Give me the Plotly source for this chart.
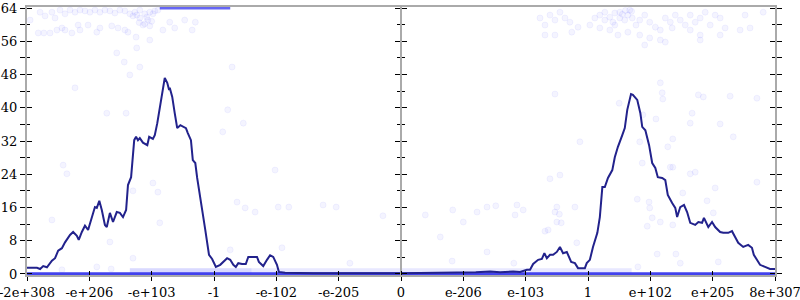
import plotly.graph_objects as go

# ---------------- data ----------------
tick_labels = ["-2e+308", "-e+206", "-e+103", "-1", "-e-102", "-e-205", "0",
               "e-206", "e-103", "1", "e+102", "e+205", "8e+307"]
tick_pos = list(range(len(tick_labels)))
y_major = [0, 8, 16, 24, 32, 40, 48, 56, 64]
y_minor = [4, 12, 20, 28, 36, 44, 52, 60]

# density curve (x in bit-order index units, y value)
curve = [(0.00, 1.5), (0.16, 1.5), (0.21, 1.2), (0.26, 1.9), (0.32, 1.6), (0.40, 3.2), (0.45, 3.8),
         (0.50, 5.6), (0.56, 6.2), (0.61, 7.6), (0.69, 9.4), (0.74, 10.1), (0.80, 9.2), (0.83, 8.2),
         (0.88, 10.1), (0.93, 11.6), (0.98, 10.6), (1.04, 13.7), (1.09, 16.1), (1.12, 15.9), (1.16, 17.6),
         (1.20, 15.4), (1.25, 11.8), (1.28, 11.3), (1.33, 14.7), (1.38, 12.5), (1.44, 14.9), (1.49, 14.7),
         (1.54, 13.7), (1.59, 15.4), (1.62, 21.4), (1.67, 23.3), (1.72, 32.2), (1.75, 33.0), (1.78, 32.2),
         (1.81, 32.7), (1.86, 31.6), (1.93, 31.0), (1.96, 33.0), (2.02, 32.5), (2.05, 33.4), (2.09, 36.3),
         (2.13, 40.2), (2.18, 45.0), (2.21, 47.2), (2.25, 46.0), (2.28, 44.3), (2.29, 44.8), (2.33, 42.6),
         (2.37, 38.7), (2.41, 35.1), (2.46, 35.8), (2.50, 35.4), (2.55, 35.1), (2.58, 33.9), (2.63, 32.2),
         (2.66, 27.4), (2.70, 26.7), (2.73, 23.1), (2.76, 19.7), (2.81, 15.4), (2.86, 10.6), (2.89, 7.7),
         (2.92, 4.6), (2.97, 3.6), (3.03, 1.7), (3.10, 2.2), (3.21, 3.8), (3.26, 3.4), (3.31, 2.2),
         (3.35, 1.7), (3.39, 2.6), (3.45, 2.4), (3.51, 2.4), (3.55, 4.1), (3.61, 4.1), (3.69, 4.1),
         (3.72, 2.9), (3.79, 1.9), (3.85, 3.4), (3.90, 4.5), (3.95, 4.1), (4.01, 2.2), (4.04, 0.5),
         (4.14, 0.3), (4.60, 0.2), (5.00, 0.25), (5.50, 0.2), (6.00, 0.15), (6.50, 0.2), (7.00, 0.3),
         (7.20, 0.4), (7.43, 0.6), (7.59, 0.4), (7.80, 0.6), (7.91, 0.5), (8.02, 1.0), (8.07, 1.0),
         (8.12, 2.4), (8.20, 3.4), (8.26, 3.6), (8.30, 5.0), (8.34, 3.8), (8.39, 4.6), (8.44, 4.6),
         (8.50, 5.3), (8.55, 6.5), (8.60, 5.0), (8.66, 5.3), (8.73, 2.9), (8.79, 2.6), (8.84, 1.4),
         (8.95, 1.4), (8.98, 2.6), (9.03, 3.4), (9.08, 6.5), (9.15, 9.9), (9.19, 13.7), (9.23, 20.9),
         (9.27, 20.9), (9.32, 23.1), (9.39, 25.0), (9.43, 28.1), (9.48, 30.6), (9.55, 33.4), (9.59, 35.1),
         (9.63, 39.5), (9.64, 40.2), (9.69, 43.3), (9.72, 43.1), (9.79, 41.9), (9.84, 38.7), (9.87, 35.4),
         (9.92, 34.6), (9.98, 31.0), (10.03, 26.7), (10.08, 25.5), (10.12, 23.3), (10.19, 23.1),
         (10.24, 22.6), (10.28, 19.0), (10.35, 17.1), (10.40, 15.9), (10.43, 13.7), (10.48, 16.1),
         (10.54, 16.6), (10.59, 14.9), (10.64, 12.3), (10.72, 11.8), (10.77, 12.5), (10.83, 12.3),
         (10.86, 13.5), (10.93, 11.3), (10.99, 12.5), (11.04, 11.3), (11.12, 10.1), (11.17, 9.9),
         (11.25, 9.9), (11.31, 10.3), (11.36, 8.9), (11.41, 7.5), (11.49, 6.5), (11.57, 7.0),
         (11.63, 6.3), (11.66, 4.6), (11.71, 3.4), (11.76, 2.2), (11.84, 1.7), (11.92, 1.2), (12.00, 1.2)]

# individual samples (faint dots)
cloud_top_left = [(0.21, 63.0), (0.29, 62.1), (0.40, 63.0), (0.53, 63.5), (0.69, 63.5), (0.77, 63.0),
                  (0.85, 63.5), (0.93, 63.3), (1.01, 63.0), (1.09, 63.5), (1.17, 63.0), (1.25, 63.5),
                  (1.33, 63.3), (1.41, 62.8), (1.49, 63.5), (1.57, 63.3), (1.65, 62.6), (1.70, 62.1),
                  (1.76, 62.3), (1.81, 61.6), (1.86, 59.9), (1.89, 60.2), (1.94, 61.1), (1.97, 59.7),
                  (2.02, 62.6), (2.05, 63.3), (0.18, 58.0), (0.27, 58.0), (0.37, 58.0), (0.48, 58.7),
                  (0.56, 59.2), (0.61, 58.7), (0.72, 58.0), (0.82, 59.9), (0.85, 58.7), (0.98, 59.9),
                  (1.12, 58.2), (1.17, 59.2), (1.36, 59.7), (1.46, 59.2), (1.57, 58.7), (1.62, 58.2),
                  (1.75, 57.0), (1.97, 56.3), (2.18, 58.7), (2.29, 60.6), (2.37, 59.2), (2.53, 61.1),
                  (2.70, 60.6), (2.65, 58.7), (0.05, 61.1), (1.44, 53.2), (1.56, 51.0), (1.76, 54.4),
                  (1.65, 47.9), (0.77, 44.8), (1.73, 63.0), (1.81, 63.5), (1.89, 62.6), (1.97, 63.0),
                  (2.10, 63.5), (0.61, 62.6), (0.45, 61.6), (1.80, 60.5), (1.92, 61.8), (2.00, 60.8)]
cloud_top_right = [(9.11, 61.6), (9.19, 62.3), (9.27, 63.0), (9.35, 61.8), (9.43, 62.8), (9.51, 63.0),
                   (9.59, 61.1), (9.64, 62.3), (9.71, 61.6), (9.77, 59.9), (9.83, 61.1), (9.91, 62.3),
                   (9.99, 60.6), (10.08, 59.4), (10.16, 58.7), (10.24, 61.6), (10.32, 60.6), (10.40, 62.3),
                   (10.48, 61.1), (10.56, 59.9), (10.64, 62.3), (10.72, 60.6), (10.80, 61.6), (10.88, 63.0),
                   (10.96, 59.9), (11.04, 62.3), (11.12, 61.6), (11.20, 59.2), (9.19, 59.2), (9.35, 58.7),
                   (9.48, 57.5), (9.64, 58.2), (9.83, 57.5), (9.99, 56.8), (10.16, 56.3), (10.35, 59.2),
                   (10.64, 58.7), (10.80, 57.5), (11.44, 58.7), (11.52, 62.3), (11.81, 63.0), (9.91, 55.1),
                   (10.24, 55.8), (10.80, 56.3), (11.12, 57.5), (11.60, 59.2), (8.23, 61.6), (8.31, 59.9),
                   (8.39, 62.3), (8.47, 61.1), (8.55, 63.0), (8.63, 61.6), (8.71, 60.6), (8.47, 57.5),
                   (8.31, 57.5), (8.74, 58.2), (8.84, 59.4), (9.27, 61.1), (9.40, 60.6), (9.51, 61.6),
                   (9.67, 63.5), (9.43, 59.9), (9.03, 59.9), (9.55, 62.5), (9.60, 63.4), (9.70, 63.2)]
cloud_sparse = [(3.29, 49.8), (3.22, 39.5), (3.47, 36.3), (3.14, 34.2), (3.98, 25.0), (2.02, 21.9),
                (2.10, 19.7), (3.37, 17.3), (3.50, 15.9), (3.66, 14.9), (2.13, 12.3), (3.26, 5.8),
                (4.03, 16.1), (1.28, 38.7), (1.59, 38.7), (1.81, 49.8), (0.58, 26.2), (0.64, 24.1),
                (0.40, 13.0), (1.70, 20.0), (1.33, 7.7), (1.70, 3.8), (1.12, 1.7), (1.35, 1.2),
                (0.56, 1.0), (4.20, 16.1), (4.75, 16.6), (4.96, 16.1), (5.71, 14.0), (4.09, 6.3),
                (5.18, 2.6), (6.39, 14.2), (6.63, 8.9), (6.83, 15.4), (7.00, 12.5), (7.22, 14.9),
                (7.38, 16.1), (7.52, 16.4), (7.86, 16.6), (7.83, 14.2), (7.96, 15.4), (7.38, 5.3),
                (6.82, 3.1), (8.50, 16.1), (8.47, 14.9), (8.54, 14.4), (8.79, 16.1), (8.50, 12.5),
                (8.57, 12.3), (8.31, 10.3), (8.36, 10.6), (8.82, 7.5), (7.81, 2.6), (10.16, 46.0),
                (10.19, 43.6), (10.20, 42.1), (9.50, 41.1), (10.77, 43.1), (10.85, 42.6), (11.28, 42.8),
                (11.71, 42.3), (10.67, 38.7), (9.88, 38.3), (10.09, 37.3), (10.64, 36.3), (11.12, 36.1),
                (11.33, 33.0), (9.83, 31.8), (10.28, 30.6), (10.36, 32.5), (9.87, 26.7), (10.32, 25.7),
                (10.36, 25.7), (10.64, 24.1), (10.72, 24.5), (11.71, 22.1), (11.04, 20.7), (9.79, 18.0),
                (9.98, 17.3), (9.99, 15.9), (10.91, 17.6), (11.01, 14.7), (10.03, 13.5), (10.16, 12.5),
                (10.36, 11.8), (9.95, 11.5), (10.11, 4.8), (10.41, 4.8), (10.48, 2.6), (11.09, 2.9),
                (9.80, 1.7), (8.47, 43.3), (8.87, 31.8), (8.55, 23.8), (8.39, 22.9), (10.52, 19.5)]

# dense runs of samples (drawn as bands)
band_floor_x, band_floor_y = [0, 12], [0, 0]
band_low_x, band_low_y = [1.65, 9.7], [0.8, 0.8]
band_low2_x, band_low2_y = [1.65, 3.6], [0.8, 0.8]
band_top_x, band_top_y = [2.13, 3.26], [64, 64]

# ---------------- figure ----------------
FONT = dict(family="DejaVu Serif", size=13, color="black")
GRAY = "#aaaaaa"
DOT = "rgba(60,60,255,0.06)"
DOT_EDGE = "rgba(60,60,255,0.06)"

fig = go.Figure()

cloud = cloud_top_left + cloud_top_right + cloud_sparse
fig.add_trace(go.Scatter(
    x=[p[0] for p in cloud], y=[p[1] for p in cloud], mode="markers",
    marker=dict(size=6, color=DOT, line=dict(color=DOT_EDGE, width=1)),
    cliponaxis=False, hoverinfo="skip", showlegend=False))

for bx, by, col, w in [(band_low_x, band_low_y, "rgba(90,90,255,0.14)", 5),
                       (band_low2_x, band_low2_y, "rgba(90,90,255,0.10)", 5),
                       (band_top_x, band_top_y, "rgba(50,50,240,0.75)", 3),
                       (band_floor_x, band_floor_y, "rgba(45,45,235,0.9)", 3.5)]:
    fig.add_trace(go.Scatter(x=bx, y=by, mode="lines", line=dict(color=col, width=w),
                             hoverinfo="skip", showlegend=False))

fig.add_trace(go.Scatter(
    x=[p[0] for p in curve], y=[p[1] for p in curve], mode="lines",
    line=dict(color="rgb(34,34,140)", width=2), showlegend=False))

# dummy traces to activate the extra tick axes
for xa, ya in [("x2", "y"), ("x", "y2"), ("x", "y3"), ("x", "y4")]:
    fig.add_trace(go.Scatter(x=[None], y=[None], xaxis=xa, yaxis=ya, showlegend=False,
                             hoverinfo="skip"))

YR = [-0.25, 64.25]
XR = [0, 12]
yminor_out = dict(tickvals=y_minor, ticks="outside", ticklen=3, tickcolor="black", tickwidth=1)
yminor_in = dict(tickvals=y_minor, ticks="inside", ticklen=3, tickcolor="black", tickwidth=1)
common = dict(automargin=False, showgrid=False, zeroline=False)

fig.update_layout(
    width=800, height=300,
    margin=dict(l=27, r=25, t=7, b=25, autoexpand=False),
    plot_bgcolor="white", paper_bgcolor="white",
    xaxis=dict(range=XR, tickvals=tick_pos, ticktext=tick_labels, ticks="outside", ticklen=4,
               tickcolor="black", tickwidth=1, showline=True, linecolor=GRAY, linewidth=2,
               mirror=True, tickfont=FONT, layer="below traces",
               ticklabeloverflow="allow", **common),
    xaxis2=dict(range=XR, overlaying="x", anchor="y", side="bottom", tickvals=tick_pos,
                ticks="inside", ticklen=4, tickcolor="black", tickwidth=1, showticklabels=False,
                showline=False, **common),
    yaxis=dict(range=YR, tickvals=y_major, ticks="outside", ticklen=5, tickcolor="black",
               tickwidth=1, mirror="allticks", showline=True, linecolor=GRAY, linewidth=2,
               tickfont=FONT, minor=yminor_out, ticklabeloverflow="allow", **common),
    yaxis2=dict(range=YR, overlaying="y", tickvals=y_major, ticks="inside", ticklen=5,
                tickcolor="black", tickwidth=1, mirror="allticks", showline=False,
                showticklabels=False, minor=yminor_in, **common),
    yaxis3=dict(range=YR, overlaying="y", anchor="free", position=0.5, tickvals=y_major,
                ticks="outside", ticklen=5, tickcolor="black", tickwidth=1, showline=True,
                linecolor=GRAY, linewidth=2, showticklabels=False, minor=yminor_out, **common),
    yaxis4=dict(range=YR, overlaying="y", anchor="free", position=0.5, tickvals=y_major,
                ticks="inside", ticklen=5, tickcolor="black", tickwidth=1, showline=False,
                showticklabels=False, minor=yminor_in, **common),
)

fig.write_html("out.html")
